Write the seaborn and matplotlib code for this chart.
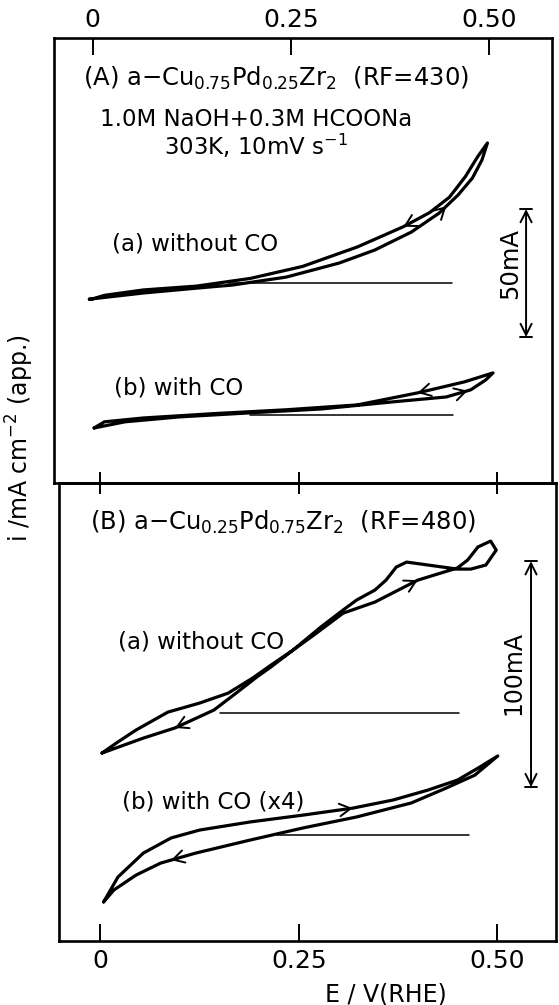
import numpy as np
import pandas as pd
import matplotlib
matplotlib.use("Agg")
import matplotlib.pyplot as plt
import seaborn as sns

# ---------------- data: E / V(RHE), i / mA (relative to the zero-current line) ----------------
# Panel A : a-Cu0.75Pd0.25Zr2
A_a_fwd_E = [-0.004, 0.064, 0.131, 0.176, 0.244, 0.311, 0.356, 0.402, 0.437, 0.461, 0.479, 0.491, 0.498]
A_a_fwd_I = [-6.3, -3.9, -2.0, -0.8, 2.3, 7.8, 12.9, 19.9, 27.3, 34.4, 41.0, 48.0, 54.7]
A_a_rev_E = [0.498, 0.486, 0.470, 0.450, 0.425, 0.392, 0.334, 0.265, 0.199, 0.131, 0.064, 0.015, -0.002, -0.004]
A_a_rev_I = [54.7, 49.5, 41.5, 33.5, 27.5, 22.0, 14.1, 6.5, 1.8, -1.2, -2.7, -4.8, -6.4, -6.3]

A_b_fwd_E = [0.002, 0.041, 0.109, 0.199, 0.288, 0.379, 0.446, 0.477, 0.496, 0.505]
A_b_fwd_I = [-5.1, -2.7, -0.8, 0.8, 2.3, 5.1, 7.0, 9.8, 13.7, 16.4]
A_b_rev_E = [0.505, 0.469, 0.410, 0.334, 0.244, 0.153, 0.064, 0.015, 0.002]
A_b_rev_I = [16.4, 12.9, 8.6, 3.9, 2.0, 0.5, -1.2, -2.7, -5.1]

# Panel B : a-Cu0.25Pd0.75Zr2
B_a_fwd_E = [0.002, 0.022, 0.045, 0.085, 0.125, 0.161, 0.192, 0.215, 0.243, 0.269, 0.306,
             0.346, 0.400, 0.450, 0.463, 0.476, 0.492, 0.499]
B_a_fwd_I = [-17.7, -12.8, -7.5, 0.4, 4.4, 8.8, 15.5, 21.2, 27.9, 34.5, 44.2,
             49.1, 58.8, 64.2, 67.7, 73.5, 76.1, 72.1]
B_a_rev_E = [0.499, 0.486, 0.467, 0.450, 0.413, 0.386, 0.373, 0.360, 0.346, 0.323, 0.306,
             0.278, 0.243, 0.215, 0.197, 0.171, 0.143, 0.094, 0.054, 0.002]
B_a_rev_I = [72.1, 65.5, 63.7, 63.7, 65.5, 66.8, 64.6, 58.8, 54.4, 50.0, 45.6,
             38.1, 27.9, 20.4, 15.9, 8.8, 1.3, -6.6, -11.1, -17.7]

B_b_fwd_E = [0.004, 0.022, 0.054, 0.089, 0.125, 0.189, 0.255, 0.318, 0.369, 0.413, 0.450, 0.476, 0.501]
B_b_fwd_I = [-29.6, -18.6, -8.0, -1.3, 2.2, 5.8, 8.8, 11.9, 15.5, 19.9, 24.3, 29.6, 35.0]
B_b_rev_E = [0.501, 0.472, 0.436, 0.392, 0.323, 0.255, 0.189, 0.120, 0.076, 0.045, 0.017, 0.004]
B_b_rev_I = [35.0, 26.5, 20.8, 14.2, 8.0, 3.1, -2.2, -8.0, -12.4, -17.7, -24.3, -29.6]

# zero-current lines (E range)
A_a_zero = [0.171, 0.453]
A_b_zero = [0.199, 0.455]
B_a_zero = [0.151, 0.452]
B_b_zero = [0.223, 0.465]

x_ticks = [0.0, 0.25, 0.50]
x_tick_labels = ["0", "0.25", "0.50"]
scale_A = 50   # mA
scale_B = 100  # mA

# ---------------- style ----------------
sns.set_theme(style="white")
plt.rcParams["font.family"] = ["DejaVu Sans"]
plt.rcParams["mathtext.fontset"] = "dejavusans"
plt.rcParams["mathtext.default"] = "regular"
plt.rcParams["text.color"] = "black"
plt.rcParams["xtick.color"] = "black"
plt.rcParams["axes.edgecolor"] = "black"

W, H = 559, 1005
fig = plt.figure(figsize=(W / 100, H / 100), dpi=100)


def fx(px):
    return px / W


def fy(py):
    return 1 - py / H


axA = fig.add_axes([fx(54), fy(483), fx(552 - 54), (483 - 38) / H])
axB = fig.add_axes([fx(59), fy(941), fx(556 - 59), (941 - 483) / H])

axA.set_xlim(-0.0486, 0.5794)
axA.set_ylim(0, 173.8)
axB.set_xlim(-0.0523, 0.5744)
axB.set_ylim(0, 202.7)

LW = 2.3


def draw_loop(ax, fE, fI, rE, rI, off):
    df = pd.DataFrame({"E": list(fE) + list(rE[1:]),
                       "I": np.array(list(fI) + list(rI[1:])) + off})
    sns.lineplot(data=df, x="E", y="I", sort=False, estimator=None,
                 color="black", lw=LW, ax=ax)


def draw_zero(ax, rng, off):
    sns.lineplot(x=rng, y=[off, off], color="black", lw=1.1, ax=ax)


def sweep_arrow(ax, E, I, e_at, off, step=0.012):
    E = np.asarray(E, float)
    I = np.asarray(I, float)
    for k in range(len(E) - 1):
        lo, hi = sorted((E[k], E[k + 1]))
        if lo <= e_at <= hi and E[k] != E[k + 1]:
            t = (e_at - E[k]) / (E[k + 1] - E[k])
            x1 = e_at
            y1 = I[k] + t * (I[k + 1] - I[k])
            d = np.sign(E[k + 1] - E[k])
            x0 = e_at - d * step
            y0 = y1 - d * step * (I[k + 1] - I[k]) / (E[k + 1] - E[k])
            ax.annotate("", xy=(x1, y1 + off), xytext=(x0, y0 + off),
                        arrowprops=dict(arrowstyle="->,head_length=0.8,head_width=0.45",
                                        lw=1.4, color="black", shrinkA=0, shrinkB=0,
                                        mutation_scale=10))
            return


def scale_bar(ax, x, y0, length, cap=0.0075):
    ax.annotate("", xy=(x, y0 + length), xytext=(x, y0),
                arrowprops=dict(arrowstyle="<->,head_length=0.8,head_width=0.4",
                                lw=1.4, color="black", shrinkA=0, shrinkB=0,
                                mutation_scale=10))
    for yy in (y0, y0 + length):
        ax.plot([x - cap, x + cap], [yy, yy], color="black", lw=1.4)


offA_a, offA_b = 78.1, 26.6
offB_a, offB_b = 100.9, 46.9

draw_loop(axA, A_a_fwd_E, A_a_fwd_I, A_a_rev_E, A_a_rev_I, offA_a)
draw_loop(axA, A_b_fwd_E, A_b_fwd_I, A_b_rev_E, A_b_rev_I, offA_b)
draw_zero(axA, A_a_zero, offA_a)
draw_zero(axA, A_b_zero, offA_b)
sweep_arrow(axA, A_a_fwd_E, A_a_fwd_I, 0.446, offA_a)
sweep_arrow(axA, A_a_rev_E, A_a_rev_I, 0.392, offA_a)
sweep_arrow(axA, A_b_fwd_E, A_b_fwd_I, 0.473, offA_b)
sweep_arrow(axA, A_b_rev_E, A_b_rev_I, 0.410, offA_b)

draw_loop(axB, B_a_fwd_E, B_a_fwd_I, B_a_rev_E, B_a_rev_I, offB_a)
draw_loop(axB, B_b_fwd_E, B_b_fwd_I, B_b_rev_E, B_b_rev_I, offB_b)
draw_zero(axB, B_a_zero, offB_a)
draw_zero(axB, B_b_zero, offB_b)
sweep_arrow(axB, B_a_fwd_E, B_a_fwd_I, 0.400, offB_a)
sweep_arrow(axB, B_a_rev_E, B_a_rev_I, 0.094, offB_a)
sweep_arrow(axB, B_b_fwd_E, B_b_fwd_I, 0.318, offB_b)
sweep_arrow(axB, B_b_rev_E, B_b_rev_I, 0.089, offB_b)

scale_bar(axA, 0.5467, 57.0, scale_A)
scale_bar(axB, 0.5429, 68.1, scale_B)

# ---------------- axes decoration ----------------
for ax in (axA, axB):
    ax.set_yticks([])
    ax.set_xlabel("")
    ax.set_ylabel("")
    for s in ax.spines.values():
        s.set_linewidth(1.9)
        s.set_color("black")
    ax.set_facecolor("none")

axA.set_xticks(x_ticks, x_tick_labels)
axA.xaxis.tick_top()
axA.tick_params(axis="x", direction="in", length=12, width=1.4, top=True, bottom=False,
                labeltop=True, labelbottom=False, labelsize=18, pad=4, color="black")

axB.set_xticks(x_ticks, x_tick_labels)
axB.tick_params(axis="x", direction="in", length=12, width=1.4, top=False, bottom=True,
                labeltop=False, labelbottom=True, labelsize=18, pad=6, color="black")
sec = axB.secondary_xaxis("top")
sec.set_xticks(x_ticks)
sec.tick_params(axis="x", direction="inout", length=16, width=1.4, labeltop=False, color="black")
sec.spines["top"].set_linewidth(1.9)

# ---------------- texts ----------------
FS = 16.5
fig.text(fx(83), fy(78), r"(A) a$-$Cu$_{0.75}$Pd$_{0.25}$Zr$_2$  (RF=430)", fontsize=17.5,
         ha="left", va="center")
fig.text(fx(256), fy(120), "1.0M NaOH+0.3M HCOONa", fontsize=FS, ha="center", va="center")
fig.text(fx(256), fy(146), r"303K, 10mV s$^{-1}$", fontsize=FS, ha="center", va="center")
fig.text(fx(112), fy(244), "(a) without CO", fontsize=FS, ha="left", va="center")
fig.text(fx(114), fy(388), "(b) with CO", fontsize=FS, ha="left", va="center")
fig.text(fx(90), fy(522), r"(B) a$-$Cu$_{0.25}$Pd$_{0.75}$Zr$_2$  (RF=480)", fontsize=17.5,
         ha="left", va="center")
fig.text(fx(118), fy(642), "(a) without CO", fontsize=FS, ha="left", va="center")
fig.text(fx(122), fy(802), "(b) with CO (x4)", fontsize=FS, ha="left", va="center")

fig.text(fx(510), fy(263), "50mA", fontsize=17.5, rotation=90, ha="center", va="center")
fig.text(fx(513), fy(673), "100mA", fontsize=17, rotation=90, ha="center", va="center")

fig.text(fx(20), fy(438), r"$i$ /mA cm$^{-2}$ (app.)", fontsize=17, rotation=90,
         ha="center", va="center")
fig.text(fx(386), fy(994), "E / V(RHE)", fontsize=17, ha="center", va="center")

fig.savefig("out.png", dpi=100, facecolor="white")
